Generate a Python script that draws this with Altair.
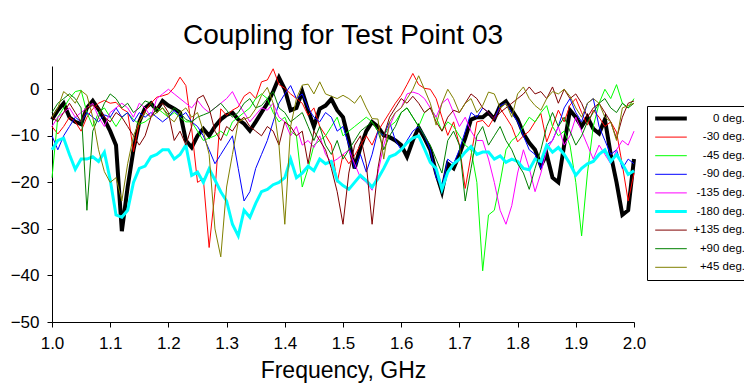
import altair as alt
import pandas as pd

freq = [round(1.0 + 0.01 * i, 2) for i in range(101)]

series_names = ["0 deg.", "-30 deg.", "-45 deg.", "-90 deg.", "-135 deg.",
                "-180 deg.", "+135 deg.", "+90 deg.", "+45 deg."]
colors = ["#000000", "#ff0000", "#00ff00", "#0000ff", "#ff00ff",
          "#00ffff", "#800000", "#008000", "#808000"]
widths = [4, 1, 1, 1, 1, 3, 1, 1, 1]

deg_0 = [
    -6.5, -4.5, -3, -6, -7, -7.5, -4, -2.5, -4.3, -6.5,
    -9, -12, -30.5, -21, -13, -7, -4, -3, -4.5, -2.5,
    -3.5, -4.2, -5, -11, -12.5, -10, -8.5, -10, -8, -6.5,
    -5.5, -5, -6.5, -7.4, -8.9, -7, -5, -3, -0.5, 2.5,
    0, -4.5, -4, -0.5, -4.5, -8, -4.2, -3.5, -2.1, -4.5,
    -6, -11, -17, -12.5, -9, -7, -8, -9.9, -10.3, -11,
    -12, -14.5, -11, -8.2, -10.5, -13, -18, -22, -16, -17,
    -14, -10.5, -6.5, -6, -6, -5, -6.4, -3.5, -2.6, -4.5,
    -6.4, -9.5, -11.5, -13, -16.4, -14, -19, -20, -12, -4.5,
    -6, -8, -6, -8.5, -9.5, -6.5, -14, -20, -27, -26,
    -15]

deg_m30 = [
    -8, -9.6, -8, -6, -7, -9, -6, -4.2, -3, -2.4,
    -3, -2.8, -4.2, -4.9, -13.4, -7, -4.6, -3, -1.7, -1.4,
    -1, 0.4, 2.6, 0.8, -8.5, -20, -19.2, -34, -22, -4.2,
    -5.6, -4.5, -3.8, -1.5, -0.6, -2, 1.6, 2, 4.4, 1,
    0.2, -1, -2, -3, -5.6, -4, -8, -9.9, -12, -20,
    -14, -16, -14.2, -12, -10, -12, -9, -7, -5, -3,
    -1.3, 1, 3.4, 1, 0.2, 0, -2, -6, -9.9, -7,
    -12, -21.3, -14.2, -7, -6.7, -8.1, -6, -4.1, -6, -8,
    -11.3, -10, -9, -7, -5.2, -11.3, -8, -4.5, -7, -3.4,
    -2, -5, -7.7, -4.5, -6, -8, -7, -9.2, -16.3, -24,
    -18]

deg_m45 = [
    -19, -6, -4, -2, -0.5, -0.2, -5, -8, -5, -4,
    -6, -8, -6, -5, -6.5, -7.5, -7, -6, -4, -5,
    -6, -5, -6, -7, -7, -9, -11, -10.5, -10, -9,
    -10, -7, -6, -5, -4, -2, -1, -2, -5, -7,
    -6, -9, -10, -21, -17, -12, -11, -10, -8, -6,
    -10, -9, -8, -7, -6, -7, -9, -10, -8, -7,
    -5, -4, -6, -8, -5, -4, -6, -9, -7, -8,
    -10, -12, -13, -20, -39, -27, -26, -20, -13, -11,
    -10, -8, -6, -7, -5, -3.5, -8, -10, -9, -12,
    -20, -31.5, -18, -8, -3, 0, -2, 1, -3, -4,
    -2]

deg_m90 = [
    -10, -13, -10, -8, -6, -7, -5, -6, -7, -5.5,
    -6, -4, -6, -5, -7, -5, -6, -5, -6, -7,
    -6, -4.5, -6, -5, -7, -8, -10, -13, -16, -14,
    -12, -10, -17, -24, -22, -17, -14, -11, -7, -3,
    -1, 0.8, -2, -1, -4, -6, -7, -5, -6, -9,
    -8, -12, -17, -14, -17.8, -14, -9, -10, -7, -11,
    -13, -11, -9, -8, -10, -13, -19, -21, -15, -16,
    -13, -9, -5, -6, -4, -5, -6.5, -3.5, -3, -5,
    -7, -10, -13, -14, -17, -12, -11, -8, -4, -2,
    -5, -7, -3, -2, -8, -11, -14, -13, -17, -15,
    -16]

deg_m135 = [
    -8, -6, -5, -4, -6, -5, -4, -3, -6, -8,
    -5, -4, -3, -4, -6, -3, -4, -6, -2, -1,
    0, -1, -2, -3, -4, -2.4, -4, -5, -4, -3,
    -2, -0.5, -3, -5, -7, -5.5, -4, -4.5, -3, -6,
    -7, -10, -8, -12, -11, -12.5, -10, -14, -15.7, -15,
    -14, -13, -16, -19, -20, -21.7, -18, -12, -8, -5,
    -4, -1, -0.6, -1, -2, -4, -6, -3, -2, -5,
    -8, -6, -9, -11, -11, -15, -20, -26, -29, -25,
    -18, -13, -17, -22, -18, -13, -11, -8, -12, -10,
    -6, -9, -12, -15, -12, -14, -16, -13, -11, -12,
    -9]

deg_m180 = [
    -13, -11, -10.5, -14, -17.2, -15, -15, -14.5, -15.5, -13.5,
    -19.5, -27, -27.5, -26, -20, -17, -16.5, -14.5, -14, -13,
    -13, -15, -14, -12, -18.5, -17.8, -20, -17.1, -19.5, -22,
    -24, -29, -31.5, -26, -27.5, -24.5, -22, -21.5, -20.5, -20,
    -19, -15, -19, -18, -16.5, -17.5, -15, -16, -15.5, -19.6,
    -20.7, -21.5, -20, -18.5, -19.6, -21, -19.2, -17, -14.5, -14,
    -13, -11.5, -10.5, -10, -12.8, -15.7, -17, -21.5, -17.8, -16,
    -15, -13.5, -12.3, -14, -13.5, -13.5, -15, -14.3, -15.7, -15,
    -15.5, -17, -17.3, -15, -15.5, -12, -13.5, -12.5, -14, -16,
    -18.5, -17, -16, -15.5, -14, -13, -15.5, -14, -16, -18.3,
    -17.5]

deg_p135 = [
    -6, -7, -5, -3, -5, -7, -4, -3.5, -4, -6,
    -7, -5, -6, -8, -10, -12, -10, -6, -4, -3,
    -5, -11, -9, -12, -8, -2, -1.3, -4, -9, -11,
    -8, -9, -7, -6, -8, -9, -10, -8, -9, -12,
    -7, -8, -10, -9, -16, -9, -11, -13, -17, -22,
    -29, -18, -12, -10, -16, -29, -17, -10, -6, -4,
    -2, -3, -1.5, -3, -5, -4, -7, -9, -6, -4.5,
    -5, -3, -1, -2, -4, -5, -6.5, -5, -4, -3,
    -2, -1, 0.5, -1, -0.5, -2, 0.5, -3, 0, -2,
    -1, -3, -6, -4, -3, -5, -7, -10.6, -6, -3,
    -2.5]

deg_p90 = [
    -5, -3, -2, -1, -2, -4, -26, -9, -6, -3,
    -1, -2, -4, -3, -5, -4, -2.5, -3, -5, -4,
    -5.5, -4, -5, -6.5, -7, -6, -5.5, -5, -4, -3,
    -4.5, -6, -5, -3, -2, -4, -3.5, -2, -0.5, -4,
    -5, -7, -6, -5, -8, -11, -8, -12, -14, -11,
    -15, -13, -11, -9, -8, -7, -9, -13, -10, -8,
    -5, -4, -6, -8, -10, -12, -15, -18, -11, -9,
    -12, -24, -17, -10, -8, -12, -10, -8, -11, -13,
    -16, -18, -21.5, -17, -13, -8, -5, -8, -6, -9,
    -12, -10, -7, -5, -3, -2, -4, -5, -3, -4,
    -3]

deg_p45 = [
    -6, -4, -0.5, -1.5, -3, -0.3, -1.3, -6, -13, -17.7,
    -20, -19, -24, -16, -10, -7, -5, -6, -5, -4,
    -6, -7, -5, -4, -6, -5, -9, -14, -30, -36,
    -21, -14, -7, -6.4, -6, -4.2, -1.3, 0.4, -3, -12,
    -29, -8, -2, 0.9, 1.1, -1, 1.6, -1, -1.5, -2,
    -1.3, -2, -3, -1.3, -4, -6.3, -6.4, -15, -7, -5,
    -4, -2, 0, 2.9, 0, -3, -7.7, -3, 0, -2,
    -5, -3, -2, -5, -3.5, -0.6, -1, -4, -3, -6,
    -1, 0.5, -2, -3.5, -4.5, -2, -0.5, -1, 0, -1.5,
    -4, -6, -3, -2, -3, -6, -7, -11, -4, -3.5,
    -3]

all_series = [deg_0, deg_m30, deg_m45, deg_m90, deg_m135,
              deg_m180, deg_p135, deg_p90, deg_p45]

rows = []
for name, vals in zip(series_names, all_series):
    for f, v in zip(freq, vals):
        rows.append({"freq": f, "db": v, "series": name})
df = pd.DataFrame(rows)

x_ticks = [1.0, 1.1, 1.2, 1.3, 1.4, 1.5, 1.6, 1.7, 1.8, 1.9, 2.0]
y_ticks = [-50, -40, -30, -20, -10, 0]

FONT = "Liberation Sans"

legend_spec = dict(
    title=None, orient="none", legendX=595, legendY=40,
    strokeColor="black", fillColor="white", padding=6,
    symbolType="stroke", symbolSize=1000, clipHeight=13,
    labelFont=FONT, labelFontSize=11.5, labelColor="black",
    labelAlign="right", labelOffset=56, rowPadding=5.6,
)

chart = alt.Chart(df).mark_line().encode(
    x=alt.X("freq:Q",
            scale=alt.Scale(domain=[1.0, 2.0], nice=False, zero=False),
            axis=alt.Axis(values=x_ticks, format=".1f", title="Frequency, GHz",
                          labelFlush=False)),
    y=alt.Y("db:Q",
            scale=alt.Scale(domain=[-50, 5], nice=False, zero=False),
            axis=alt.Axis(values=y_ticks, title=None, labelFlush=False)),
    color=alt.Color("series:N",
                    scale=alt.Scale(domain=series_names, range=colors),
                    legend=alt.Legend(**legend_spec)),
    strokeWidth=alt.StrokeWidth("series:N",
                                scale=alt.Scale(type="ordinal", domain=series_names,
                                                range=widths),
                                legend=alt.Legend(**legend_spec)),
).properties(
    width=582, height=256,
    title=alt.TitleParams("Coupling for Test Point 03", font=FONT, fontSize=28,
                          fontWeight="normal", color="black", anchor="middle", offset=16),
    autosize=alt.AutoSizeParams(type="none"),
    padding={"left": 44, "top": 58, "right": 110, "bottom": 64},
).configure_view(
    strokeWidth=0
).configure_axis(
    grid=False, labelFont=FONT, labelFontSize=17, labelColor="black",
    tickColor="black", domainColor="black", tickSize=5,
    titleFont=FONT, titleFontSize=23, titleFontWeight="normal", titleColor="black",
    labelPadding=8, titlePadding=8,
)

chart.save("out.html", embed_options={"renderer": "svg", "actions": False})
